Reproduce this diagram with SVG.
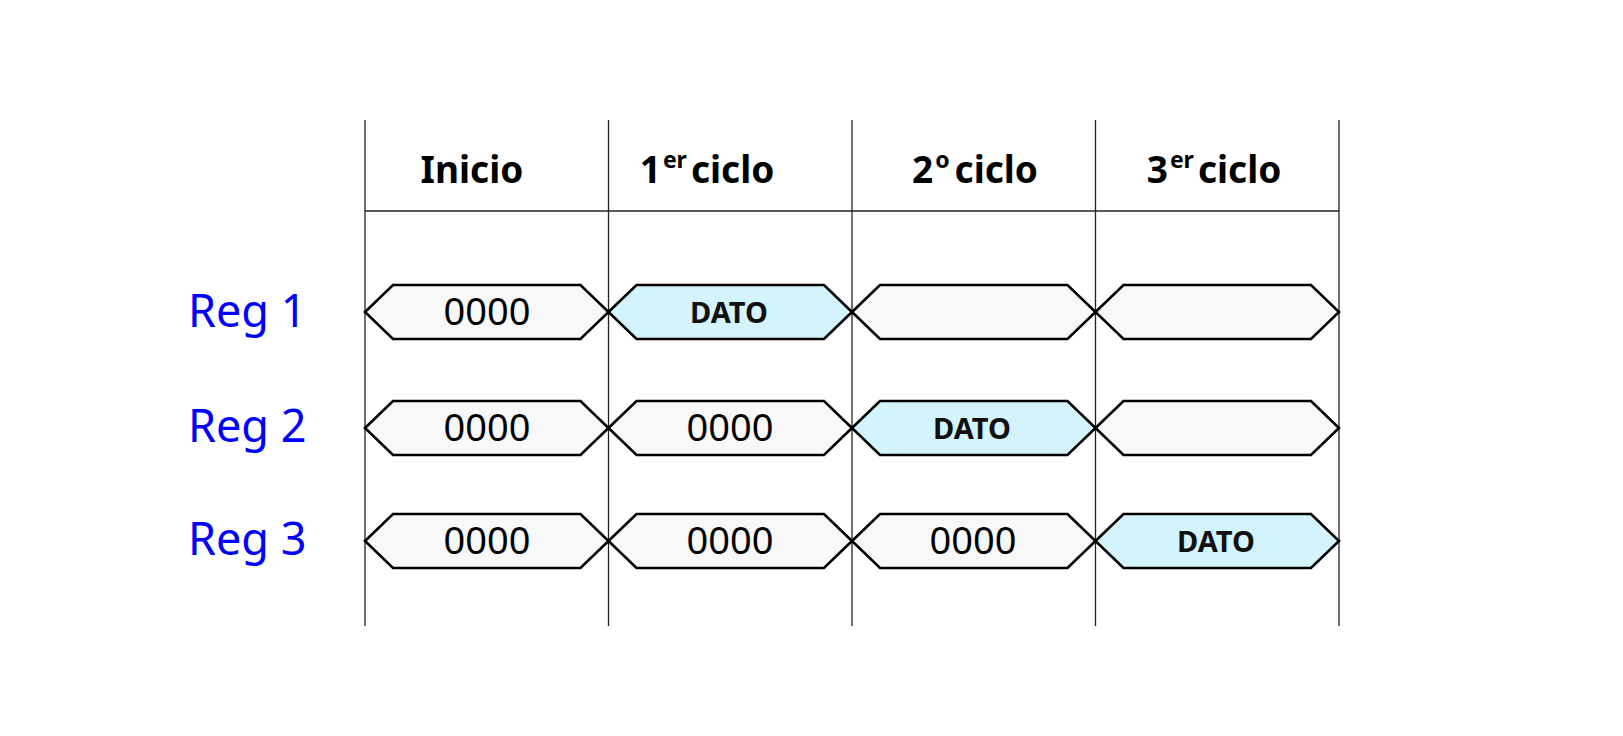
<svg xmlns="http://www.w3.org/2000/svg" width="1623" height="736" viewBox="0 0 1623 736">
<style>
.grid{stroke:#222;stroke-width:1.3;fill:none}
.hex{stroke:#000;stroke-width:2.6;stroke-linejoin:miter}
.empty{fill:#f8f8f8}
.data{fill:#d4f4fd}
.val{font-family:"Noto Sans","Open Sans",sans-serif;font-size:38px;fill:#000;text-anchor:middle}
.dato{font-family:"Noto Sans","Open Sans",sans-serif;font-weight:bold;font-size:29px;fill:#111;text-anchor:middle}
.reg{font-family:"Noto Sans","Open Sans",sans-serif;font-size:45px;fill:#0000ff}
.head{font-family:"Noto Sans","Open Sans",sans-serif;font-weight:bold;font-size:37px;fill:#000;text-anchor:middle}
.sup{font-size:23px}
</style>
<rect width="1623" height="736" fill="#fff"/>
<g id="grid" class="grid">
<line x1="365" y1="120" x2="365" y2="626"/>
<line x1="608.5" y1="120" x2="608.5" y2="626"/>
<line x1="852" y1="120" x2="852" y2="626"/>
<line x1="1095.5" y1="120" x2="1095.5" y2="626"/>
<line x1="1339" y1="120" x2="1339" y2="626"/>
<line x1="365" y1="211" x2="1339" y2="211"/>
</g>
<g id="headers">
<text class="head" x="472" y="183">Inicio</text>
<text class="head" x="707" y="183">1<tspan class="sup" dx="2" dy="-15">er</tspan><tspan dx="4" dy="15">ciclo</tspan></text>
<text class="head" x="975" y="183">2<tspan class="sup" dx="2" dy="-15">o</tspan><tspan dx="5" dy="15">ciclo</tspan></text>
<text class="head" x="1214" y="183">3<tspan class="sup" dx="2" dy="-15">er</tspan><tspan dx="4" dy="15">ciclo</tspan></text>
</g>
<g id="labels">
<text class="reg" x="188" y="327">Reg 1</text>
<text class="reg" x="188" y="442">Reg 2</text>
<text class="reg" x="188" y="555">Reg 3</text>
</g>
<g id="row1">
<g id="r1c1"><polygon class="hex empty" points="365,312 393,285 580.5,285 608.5,312 580.5,339 393,339"/><text class="val" x="487" y="325">0000</text></g>
<g id="r1c2"><polygon class="hex data" points="608.5,312 636.5,285 824,285 852,312 824,339 636.5,339"/><text class="dato" x="729" y="323">DATO</text></g>
<g id="r1c3"><polygon class="hex empty" points="852,312 880,285 1067.5,285 1095.5,312 1067.5,339 880,339"/></g>
<g id="r1c4"><polygon class="hex empty" points="1095.5,312 1123.5,285 1311,285 1339,312 1311,339 1123.5,339"/></g>
</g>
<g id="row2">
<g id="r2c1"><polygon class="hex empty" points="365,428 393,401 580.5,401 608.5,428 580.5,455 393,455"/><text class="val" x="487" y="441">0000</text></g>
<g id="r2c2"><polygon class="hex empty" points="608.5,428 636.5,401 824,401 852,428 824,455 636.5,455"/><text class="val" x="730" y="441">0000</text></g>
<g id="r2c3"><polygon class="hex data" points="852,428 880,401 1067.5,401 1095.5,428 1067.5,455 880,455"/><text class="dato" x="972" y="439">DATO</text></g>
<g id="r2c4"><polygon class="hex empty" points="1095.5,428 1123.5,401 1311,401 1339,428 1311,455 1123.5,455"/></g>
</g>
<g id="row3">
<g id="r3c1"><polygon class="hex empty" points="365,541 393,514 580.5,514 608.5,541 580.5,568 393,568"/><text class="val" x="487" y="554">0000</text></g>
<g id="r3c2"><polygon class="hex empty" points="608.5,541 636.5,514 824,514 852,541 824,568 636.5,568"/><text class="val" x="730" y="554">0000</text></g>
<g id="r3c3"><polygon class="hex empty" points="852,541 880,514 1067.5,514 1095.5,541 1067.5,568 880,568"/><text class="val" x="973" y="554">0000</text></g>
<g id="r3c4"><polygon class="hex data" points="1095.5,541 1123.5,514 1311,514 1339,541 1311,568 1123.5,568"/><text class="dato" x="1216" y="552">DATO</text></g>
</g>
</svg>
